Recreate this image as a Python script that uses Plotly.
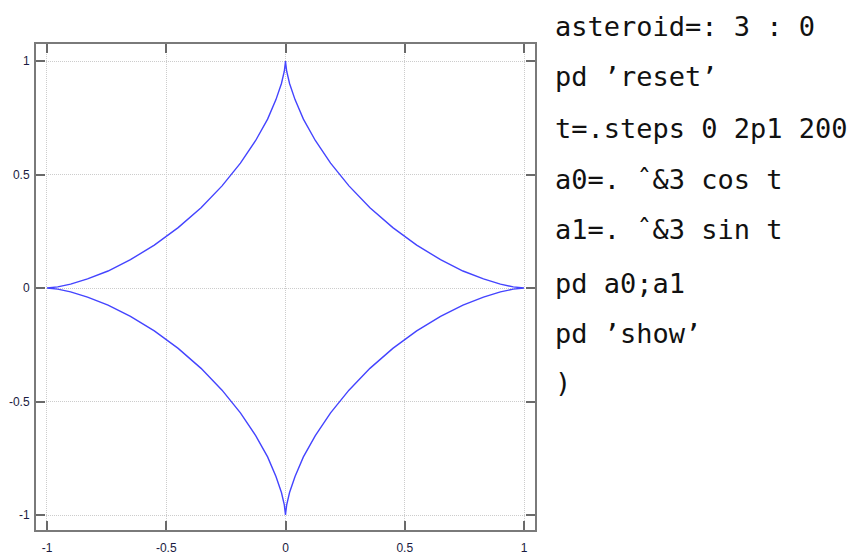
import plotly.graph_objects as go

# Astroid points (x = cos^3 t, y = sin^3 t, closed loop)
x_vals = [1, .989, .955, .901, .830, .744, .650, .550, .450, .354, .266, .189, .125, .075, .040, .017, .005, .001, 0,
          -.001, -.005, -.017, -.040, -.075, -.125, -.189, -.266, -.354, -.450, -.550, -.650, -.744, -.830, -.901, -.955, -.989, -1,
          -.989, -.955, -.901, -.830, -.744, -.650, -.550, -.450, -.354, -.266, -.189, -.125, -.075, -.040, -.017, -.005, -.001, 0,
          .001, .005, .017, .040, .075, .125, .189, .266, .354, .450, .550, .650, .744, .830, .901, .955, .989, 1]
y_vals = [0, .001, .005, .017, .040, .075, .125, .189, .266, .354, .450, .550, .650, .744, .830, .901, .955, .989, 1,
          .989, .955, .901, .830, .744, .650, .550, .450, .354, .266, .189, .125, .075, .040, .017, .005, .001, 0,
          -.001, -.005, -.017, -.040, -.075, -.125, -.189, -.266, -.354, -.450, -.550, -.650, -.744, -.830, -.901, -.955, -.989, -1,
          -.989, -.955, -.901, -.830, -.744, -.650, -.550, -.450, -.354, -.266, -.189, -.125, -.075, -.040, -.017, -.005, -.001, 0]

tick_vals = [-1, -0.5, 0, 0.5, 1]
tick_text = ["-1", "-0.5", "0", "0.5", "1"]

code_lines = [
    "asteroid=: 3 : 0",
    "pd 'reset'",
    "t=.steps 0 2p1 200",
    "a0=. ^&3 cos t",
    "a1=. ^&3 sin t",
    "pd a0;a1",
    "pd 'show'",
    ")",
]
code_lines = [s.replace("'", "\u2019").replace("^", "\u02c6") for s in code_lines]

W, H = 860, 557
OFF = 8  # page body margin
L, R, T, B = 36 - OFF, 535 - OFF, 44 - OFF, 530 - OFF

fig = go.Figure()
fig.add_trace(go.Scatter(x=x_vals, y=y_vals, mode="lines",
                         line=dict(color="#4444ff", width=1.4), hoverinfo="skip"))

axis_common = dict(
    tickvals=tick_vals, ticktext=tick_text, automargin=False,
    showline=True, linecolor="#7a7a7a", linewidth=2, mirror="allticks",
    ticks="inside", ticklen=9, tickwidth=2, tickcolor="#6a6a6a",
    showgrid=True, gridcolor="#cccccc", gridwidth=1, griddash="1px,1px",
    zeroline=False, tickfont=dict(family="Liberation Sans, Arial", size=12, color="#1a1a40"),
)
fig.update_xaxes(range=[-1.046, 1.046], ticklabelstandoff=6, **axis_common)
fig.update_yaxes(range=[-1.066, 1.075], ticklabelstandoff=2, **axis_common)

baselines = [36, 86, 137, 188, 238, 292, 342, 391]
for txt, bl in zip(code_lines, baselines):
    py = bl - 9 - OFF
    fig.add_annotation(text=txt, xref="paper", yref="paper",
                       x=(553 - OFF - L) / (R - L), y=(B - py) / (B - T),
                       xanchor="left", yanchor="middle", showarrow=False,
                       font=dict(family="DejaVu Sans Mono", size=27, color="#111"))

fig.update_layout(width=W, height=H, margin=dict(l=L, r=W - R, t=T, b=H - B),
                  paper_bgcolor="white", plot_bgcolor="white", showlegend=False)

fig.write_html("out.html")
